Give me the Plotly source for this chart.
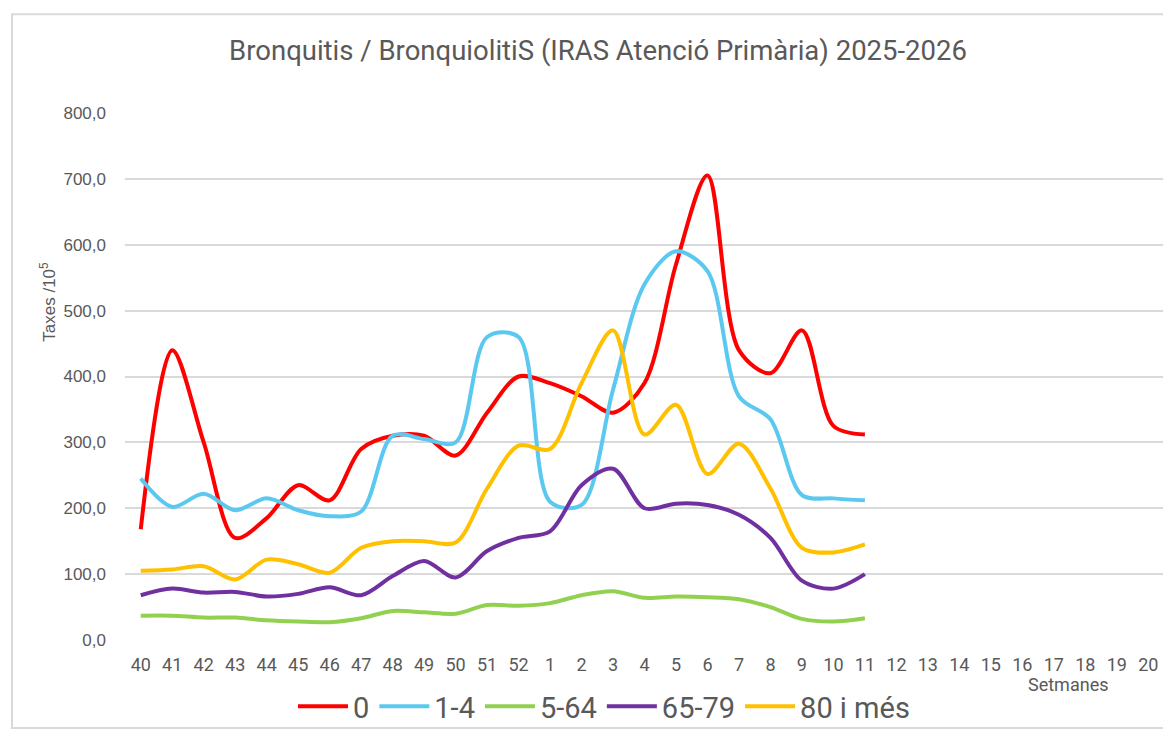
import plotly.graph_objects as go

weeks = [str(w) for w in range(40, 53)] + [str(w) for w in range(1, 21)]
data_weeks = weeks[:24]  # 40..52, 1..11

s_0 = [168, 440, 300, 155, 185, 235, 212, 290, 310, 310, 280, 345, 400, 390, 370, 345, 390, 570, 705, 440, 405, 470, 325, 312]
s_1_4 = [245, 202, 222, 197, 215, 197, 188, 195, 310, 305, 300, 460, 460, 210, 205, 380, 540, 590, 560, 370, 335, 220, 215, 212]
s_5_64 = [37, 37, 34, 34, 30, 28, 27, 33, 44, 42, 40, 53, 52, 56, 68, 74, 64, 66, 65, 62, 50, 32, 28, 33]
s_65_79 = [68, 78, 72, 73, 66, 70, 80, 68, 97, 120, 95, 135, 155, 165, 235, 260, 200, 207, 205, 190, 155, 90, 78, 100]
s_80 = [105, 107, 112, 92, 122, 115, 102, 140, 150, 150, 148, 230, 295, 290, 390, 470, 312, 357, 252, 298, 230, 140, 133, 145]

series_names = ["0", "1-4", "5-64", "65-79", "80 i més"]
series_vals = [s_0, s_1_4, s_5_64, s_65_79, s_80]
series_colors = ["#FF0000", "#5BC8F0", "#92D050", "#7030A0", "#FFC000"]

fig = go.Figure()
for name, vals, col in zip(series_names, series_vals, series_colors):
    fig.add_trace(go.Scatter(
        x=data_weeks, y=vals, name=name, mode="lines",
        line=dict(color=col, width=4, shape="spline", smoothing=0.9),
        hoverinfo="x+y+name",
    ))

W, H = 1171, 736
L, R, T, B = 117, 15, 105, 92
pw = W - L - R
ph = H - T - B

def px(x):
    return (x - L) / pw

def py(y):
    return (H - B - y) / ph

FONT = "Roboto, Arial"
GREY = "#595959"

fig.update_layout(
    width=W, height=H,
    margin=dict(l=L, r=R, t=T, b=B),
    paper_bgcolor="white", plot_bgcolor="white",
    separators=",.",
    font=dict(family=FONT, color=GREY),
    title=dict(
        text="Bronquitis / BronquiolitiS (IRAS Atenció Primària) 2025-2026",
        x=590 / W, xanchor="center", y=1 - 42 / H, yanchor="middle",
        font=dict(size=27.5, color=GREY, family=FONT),
    ),
    xaxis=dict(
        type="category", categoryorder="array", categoryarray=weeks,
        range=[-0.5, len(weeks) - 0.5],
        showgrid=False, showline=False, zeroline=False, ticks="",
        tickfont=dict(size=18, color=GREY, family=FONT),
        ticklabelstandoff=12,
        fixedrange=True,
    ),
    yaxis=dict(
        range=[0, 800], dtick=100, tickformat=".1f",
        showgrid=True, gridcolor="#D9D9D9", gridwidth=1.5,
        zeroline=False, showline=False, ticks="",
        tickfont=dict(size=17, color=GREY, family="Liberation Sans, Arial"),
        ticklabelstandoff=18,
        fixedrange=True,
    ),
    legend=dict(
        orientation="h", x=px(596), xanchor="center", y=py(712), yanchor="middle",
        font=dict(size=29, color=GREY, family=FONT),
        itemwidth=50, tracegroupgap=0, bgcolor="rgba(0,0,0,0)",
    ),
    annotations=[
        dict(
            text="Setmanes", x=px(1060), y=py(690), xref="paper", yref="paper",
            showarrow=False, xanchor="center", yanchor="middle",
            font=dict(size=18, color=GREY, family=FONT),
        ),
        dict(
            text="Taxes /10<sup>5</sup>", x=px(40), y=py(298), xref="paper", yref="paper",
            showarrow=False, xanchor="center", yanchor="middle", textangle=-90,
            font=dict(size=17, color=GREY, family="Liberation Sans, Arial"),
        ),
    ],
    shapes=[dict(
        type="rect", xref="paper", yref="paper",
        x0=px(4), x1=px(1169), y0=py(734), y1=py(4),
        line=dict(color="#D9D9D9", width=2), fillcolor="rgba(0,0,0,0)", layer="below",
    )],
    showlegend=True,
)

fig.write_html("out.html")
